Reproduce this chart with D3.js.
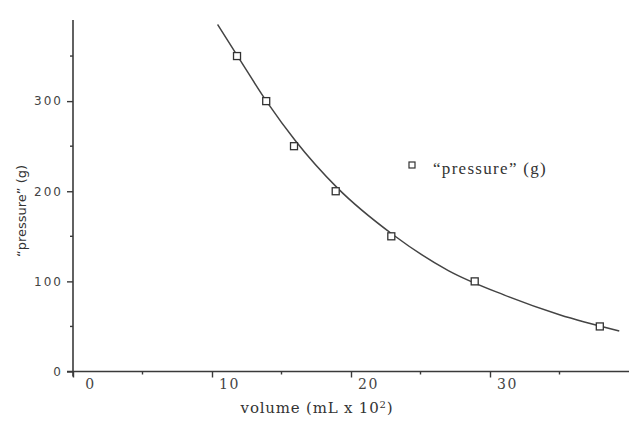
<!DOCTYPE html>
<html><head><meta charset="utf-8">
<script src="https://cdn.jsdelivr.net/npm/d3@7"></script>
<style>body{margin:0;background:#fff}svg{display:block}</style>
</head><body>
<script>
// Data
const volume   = [11.8, 13.9, 15.9, 18.9, 22.9, 28.9, 37.9];
const pressure = [350, 300, 250, 200, 150, 100, 50];
// fitted curve
const curveX = [10.4, 12, 14, 16, 19, 23, 27, 31, 35, 39.3];
const curveY = [385, 346, 298, 256, 204, 152, 112, 85, 63, 45];
const xMajorTicks = [0, 10, 20, 30];
const xMinorTicks = [5, 15, 25, 35];
const yMajorTicks = [0, 100, 200, 300];
const yMinorTicks = [50, 150, 250, 350];
const xTitle = "volume (mL x 10";
const yTitle = "\u201Cpressure\u201D (g)";
const legendLabel = "\u201Cpressure\u201D (g)";

const W = 640, H = 421;
const svg = d3.select("body").append("svg").attr("width", W).attr("height", H);
const x = d3.scaleLinear().domain([0, 40]).range([73, 629]);
const y = d3.scaleLinear().domain([0, 390]).range([371.5, 20]);
const ink = "#3a3a3a";

// X axis
const gx = svg.append("g").attr("transform", `translate(0,${y(0)})`);
gx.call(d3.axisBottom(x).tickValues(xMajorTicks).tickSize(6).tickSizeOuter(0))
  .call(g => g.select(".domain").attr("stroke", ink).attr("stroke-width", 1.6).attr("d", `M${x(0)-6},0H${x(40)}`))
  .call(g => g.selectAll(".tick line").attr("stroke", ink).attr("stroke-width", 1.4))
  .call(g => g.selectAll(".tick text").attr("fill", "#444").attr("font-family", "DejaVu Serif")
      .attr("font-size", 14).attr("letter-spacing", 1.5).attr("dx", 17).attr("y", 8));
gx.append("g").selectAll("line").data(xMinorTicks).join("line")
  .attr("x1", d => x(d)).attr("x2", d => x(d)).attr("y1", 0).attr("y2", 3)
  .attr("stroke", ink).attr("stroke-width", 1.4);

// Y axis
const gy = svg.append("g").attr("transform", `translate(${x(0)},0)`);
gy.call(d3.axisLeft(y).tickValues(yMajorTicks).tickSize(6).tickSizeOuter(0))
  .call(g => g.select(".domain").attr("stroke", ink).attr("stroke-width", 1.6).attr("d", `M0,${y(390)}V${y(0)+5}`))
  .call(g => g.selectAll(".tick line").attr("stroke", ink).attr("stroke-width", 1.4))
  .call(g => g.selectAll(".tick text").attr("fill", "#444").attr("font-family", "DejaVu Sans")
      .attr("font-size", 12).attr("letter-spacing", 2).attr("x", -10));
gy.append("g").selectAll("line").data(yMinorTicks).join("line")
  .attr("x1", -3).attr("x2", 0).attr("y1", d => y(d)).attr("y2", d => y(d))
  .attr("stroke", ink).attr("stroke-width", 1.4);

// Axis titles
const xt = svg.append("text").attr("x", 317).attr("y", 413).attr("text-anchor", "middle")
  .attr("font-family", "DejaVu Serif").attr("font-size", 15).attr("letter-spacing", 0.8).attr("fill", "#333");
xt.append("tspan").text(xTitle);
xt.append("tspan").attr("dy", -5).attr("font-size", 10).text("2");
xt.append("tspan").attr("dy", 5).text(")");

svg.append("text").attr("transform", "translate(26,211) rotate(-90)").attr("text-anchor", "middle")
  .attr("font-family", "DejaVu Sans").attr("font-size", 13).attr("fill", "#333").text(yTitle);

// Curve
const pts = curveX.map((v, i) => [v, curveY[i]]);
svg.append("path").datum(pts)
  .attr("d", d3.line().x(d => x(d[0])).y(d => y(d[1])).curve(d3.curveMonotoneX))
  .attr("fill", "none").attr("stroke", "#444").attr("stroke-width", 1.5);

// Points
svg.append("g").selectAll("rect").data(volume.map((v, i) => [v, pressure[i]])).join("rect")
  .attr("x", d => x(d[0]) - 3.5).attr("y", d => y(d[1]) - 3.5).attr("width", 7).attr("height", 7)
  .attr("fill", "#fff").attr("stroke", "#333").attr("stroke-width", 1.3);

// Legend
svg.append("rect").attr("x", 409).attr("y", 162).attr("width", 6).attr("height", 6)
  .attr("fill", "#fff").attr("stroke", "#333").attr("stroke-width", 1.2);
svg.append("text").attr("x", 433).attr("y", 174).attr("font-family", "Liberation Serif")
  .attr("font-size", 17).attr("letter-spacing", 1.3).attr("fill", "#333").text(legendLabel);
</script>
</body></html>
